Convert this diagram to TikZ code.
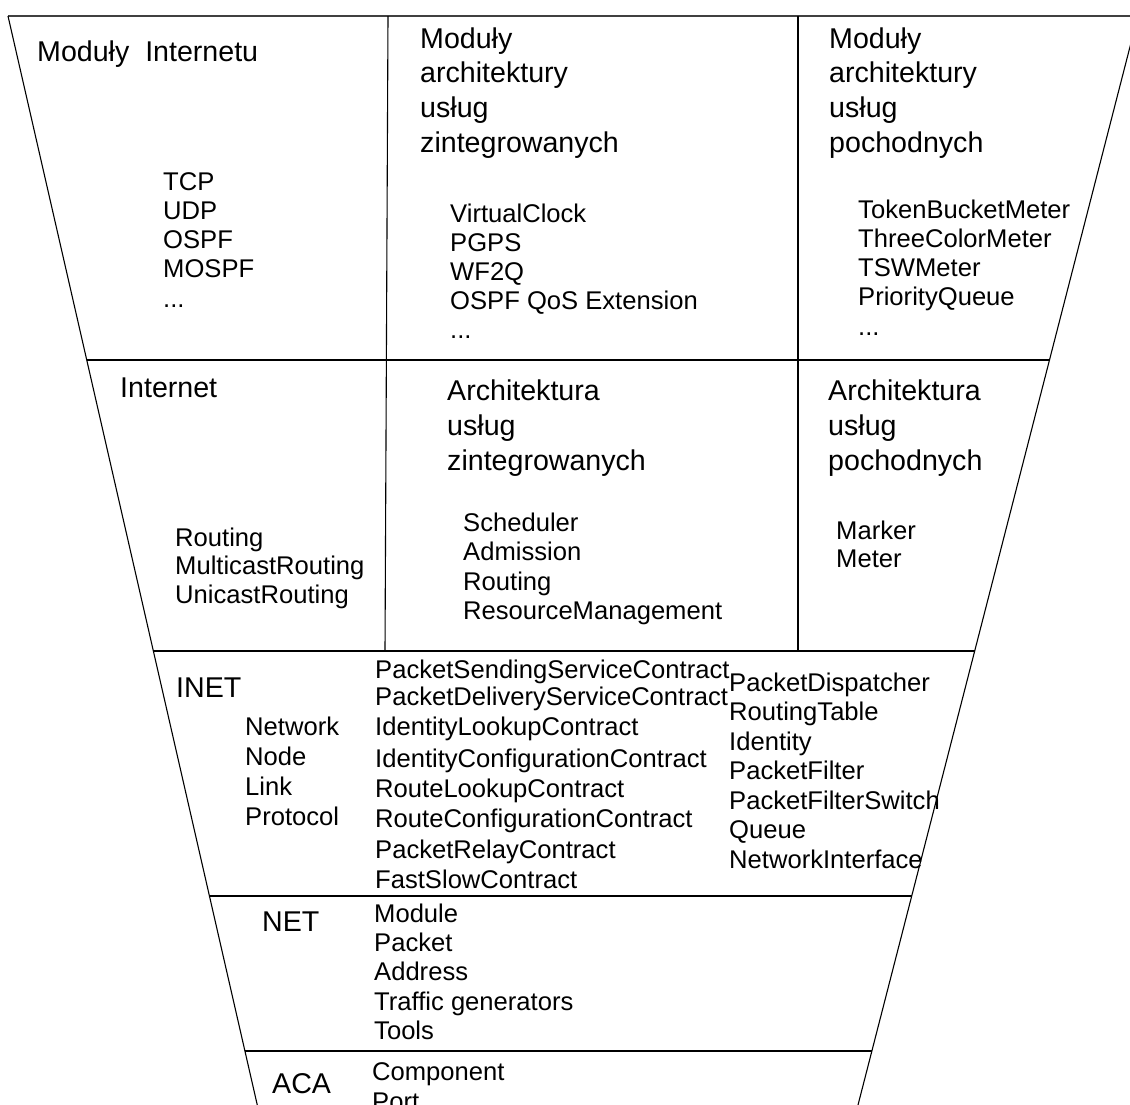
\documentclass[tikz,border=0pt]{standalone}
\usepackage{fontspec}
\setmainfont{Liberation Sans}
\begin{document}
\begin{tikzpicture}[x=1pt,y=-1pt,
  rule/.style={line width=1.1pt, black},
  toprule/.style={line width=1.5pt, black!75},
  head/.style={anchor=base west, inner sep=0pt, font=\fontsize{28.6}{34}\selectfont},
  item/.style={anchor=base west, inner sep=0pt, font=\fontsize{25.6}{30}\selectfont}]
\clip (0,0) rectangle (1130,1104);
% frame coordinates
\coordinate (TL) at (8,16);
\coordinate (LB) at (265.3,1140);
\coordinate (TR) at (1137.9,16);
\coordinate (RB) at (849,1140);
\coordinate (TE) at (1140,16);
\coordinate (L1) at (86.7,360);   \coordinate (R1) at (1049.6,360);
\coordinate (L2) at (153.3,651);  \coordinate (R2) at (974.7,651);
\coordinate (L3) at (209.4,896);  \coordinate (R3) at (911.8,896);
\coordinate (L4) at (244.9,1051); \coordinate (R4) at (872,1051);
\coordinate (V1t) at (388,16); \coordinate (V1b) at (385,651);
\coordinate (V2t) at (798,16); \coordinate (V2b) at (798,651);
% lines
\draw[toprule] (TL) -- (TE);
\draw[rule] (TL) -- (LB);
\draw[rule] (TR) -- (RB);
\draw[rule] (L1) -- (R1);
\draw[rule] (L2) -- (R2);
\draw[rule] (L3) -- (R3);
\draw[rule] (L4) -- (R4);
\draw[rule] (V1t) -- (V1b);
\draw[rule] (V2t) -- (V2b);
% row 1
\node[head] (h11) at (37,61) {Moduły~~Internetu};
\foreach \t [count=\i] in {TCP,UDP,OSPF,MOSPF}
  \node[item] (a\i) at (163,{190+29.3*(\i-1)}) {\t};
\node[item] (a5) at (163,307.2) {...};
\foreach \t [count=\i] in {Moduły,architektury,usług,zintegrowanych}
  \node[head] (h12-\i) at (420,{48+34.7*(\i-1)}) {\t};
\foreach \t [count=\i] in {VirtualClock,PGPS,WF2Q,OSPF QoS Extension}
  \node[item] (b\i) at (450,{222+29.2*(\i-1)}) {\t};
\node[item] (b5) at (450,338.8) {...};
\foreach \t [count=\i] in {Moduły,architektury,usług,pochodnych}
  \node[head] (h13-\i) at (829,{48+34.7*(\i-1)}) {\t};
\foreach \t [count=\i] in {TokenBucketMeter,ThreeColorMeter,TSWMeter,PriorityQueue}
  \node[item] (c\i) at (858,{218+29.3*(\i-1)}) {\t};
\node[item] (c5) at (858,335.2) {...};
% row 2
\node[head] (h21) at (120,397) {Internet};
\foreach \t [count=\i] in {Routing,MulticastRouting,UnicastRouting}
  \node[item] (d\i) at (175,{546+28.5*(\i-1)}) {\t};
\foreach \t [count=\i] in {Architektura,usług,zintegrowanych}
  \node[head] (h22-\i) at (447,{400+35*(\i-1)}) {\t};
\foreach \t [count=\i] in {Scheduler,Admission,Routing,ResourceManagement}
  \node[item] (e\i) at (463,{531+29.5*(\i-1)}) {\t};
\foreach \t [count=\i] in {Architektura,usług,pochodnych}
  \node[head] (h23-\i) at (828,{400+35*(\i-1)}) {\t};
\foreach \t [count=\i] in {Marker,Meter}
  \node[item] (f\i) at (836,{539+28*(\i-1)}) {\t};
% row 3: INET
\node[head] (inet) at (176,697) {INET};
\foreach \t [count=\i] in {Network,Node,Link,Protocol}
  \node[item] (g\i) at (245,{735+30.2*(\i-1)}) {\t};
\node[item] (k1) at (375,678) {PacketSendingServiceContract};
\node[item] (k2) at (375,705) {PacketDeliveryServiceContract};
\node[item] (k3) at (375,735) {IdentityLookupContract};
\node[item] (k4) at (375,767) {IdentityConfigurationContract};
\node[item] (k5) at (375,797) {RouteLookupContract};
\node[item] (k6) at (375,827) {RouteConfigurationContract};
\node[item] (k7) at (375,858) {PacketRelayContract};
\node[item] (k8) at (375,888) {FastSlowContract};
\foreach \t [count=\i] in {PacketDispatcher,RoutingTable,Identity,PacketFilter,PacketFilterSwitch,Queue,NetworkInterface}
  \node[item] (m\i) at (729,{691+29.5*(\i-1)}) {\t};
% row 4: NET
\node[head] (net) at (262,931) {NET};
\foreach \t [count=\i] in {Module,Packet,Address,Traffic generators,Tools}
  \node[item] (n\i) at (374,{922+29.4*(\i-1)}) {\t};
% row 5: ACA
\node[head] (aca) at (272,1093) {ACA};
\node[item] (p1) at (372,1080) {Component};
\node[item] (p2) at (372,1110) {Port};
\end{tikzpicture}
\end{document}
